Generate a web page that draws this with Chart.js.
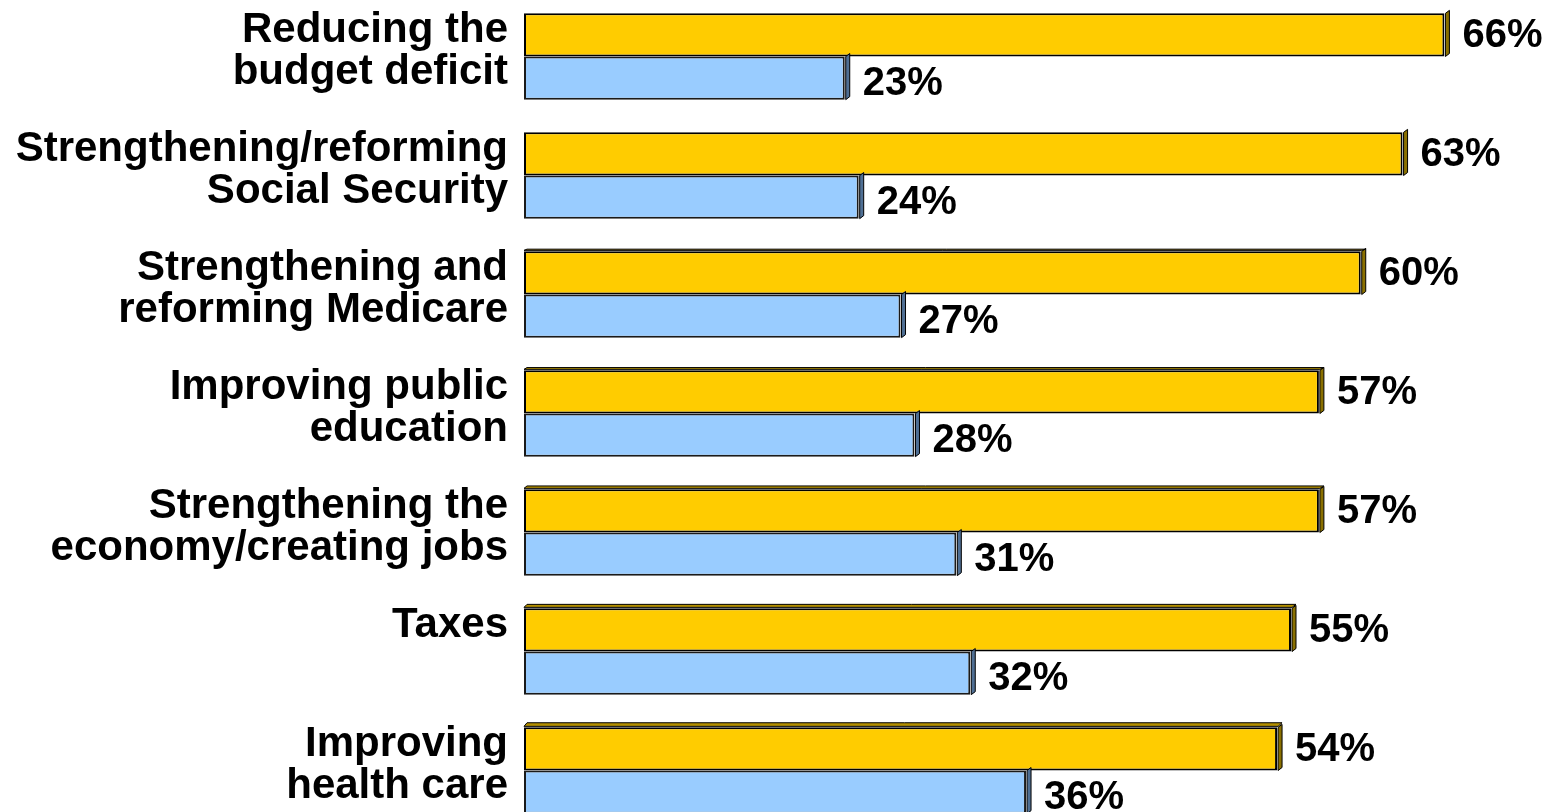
<!DOCTYPE html>
<html>
<head>
<meta charset="utf-8">
<script src="https://cdn.jsdelivr.net/npm/chart.js@4.4.0/dist/chart.umd.min.js"></script>
<style>
    html, body { margin: 0; padding: 0; background: #fff; overflow: hidden; }
    #wrap { position: absolute; left: 0; top: -3px; width: 1549px; height: 833px; }
</style>
</head>
<body>
<div id="wrap"><canvas id="myChart" width="1549" height="833"></canvas></div>
<script>
// Categories (two lines each, 'Taxes' padded so it sits at the top like the others)
const categories = [
    ['Reducing the', 'budget deficit'],
    ['Strengthening/reforming', 'Social Security'],
    ['Strengthening and', 'reforming Medicare'],
    ['Improving public', 'education'],
    ['Strengthening the', 'economy/creating jobs'],
    ['Taxes', ''],
    ['Improving', 'health care']
];
const yellowValues = [66, 63, 60, 57, 57, 55, 54];
const blueValues = [23, 24, 27, 28, 31, 32, 36];

// Side / top faces for the 3D look
const sideColors = ['#8a7000', '#4f6f94'];
const topColor = '#b38f00';

const bar3d = {
    id: 'bar3d',
    afterDatasetsDraw(chart) {
        const ctx = chart.ctx;
        ctx.save();
        ctx.lineWidth = 1;
        ctx.strokeStyle = '#000';
        chart.data.datasets.forEach((ds, di) => {
            chart.getDatasetMeta(di).data.forEach((bar, i) => {
                const top = bar.y - bar.height / 2;
                const bottom = bar.y + bar.height / 2;
                const left = bar.base;
                const right = bar.x;
                const dx = 5, dy = 3;
                // right side face
                ctx.fillStyle = sideColors[di];
                ctx.beginPath();
                ctx.moveTo(right + 1, top);
                ctx.lineTo(right + dx, top - dy);
                ctx.lineTo(right + dx, bottom - dy);
                ctx.lineTo(right + 1, bottom);
                ctx.closePath();
                ctx.fill();
                ctx.stroke();
                // top face, gets visible further down
                const th = i * 0.6;
                if (di === 0 && th >= 1) {
                    ctx.fillStyle = topColor;
                    ctx.beginPath();
                    ctx.moveTo(left, top - 1);
                    ctx.lineTo(left + 3, top - 1 - th);
                    ctx.lineTo(right + dx, top - 1 - th);
                    ctx.lineTo(right + 1, top - 1);
                    ctx.closePath();
                    ctx.fill();
                    ctx.stroke();
                }
            });
        });
        ctx.restore();
    }
};

const barLabels = {
    id: 'barLabels',
    afterDatasetsDraw(chart) {
        const ctx = chart.ctx;
        ctx.save();
        ctx.font = 'bold 40px "Liberation Sans", Arial, sans-serif';
        ctx.fillStyle = '#000';
        ctx.textBaseline = 'middle';
        ctx.textAlign = 'left';
        chart.data.datasets.forEach((ds, di) => {
            chart.getDatasetMeta(di).data.forEach((bar, i) => {
                ctx.fillText(ds.data[i] + '%', bar.x + 18, bar.y + (di === 1 ? 6 : 1));
            });
        });
        ctx.restore();
    }
};

const ctx = document.getElementById('myChart').getContext('2d');
const myChart = new Chart(ctx, {
    type: 'bar',
    data: {
        labels: categories,
        datasets: [
            {
                label: 'Yellow',
                data: yellowValues,
                backgroundColor: '#ffcc00',
                borderColor: '#000',
                borderWidth: 2,
                borderSkipped: false,
                categoryPercentage: 0.725,
                barPercentage: 1.0
            },
            {
                label: 'Blue',
                data: blueValues,
                backgroundColor: '#99ccff',
                borderColor: '#1a1a1a',
                borderWidth: 2,
                borderSkipped: false,
                categoryPercentage: 0.725,
                barPercentage: 1.0
            }
        ]
    },
    options: {
        indexAxis: 'y',
        responsive: false,
        animation: false,
        devicePixelRatio: 1,
        layout: { padding: 0 },
        scales: {
            x: {
                display: false,
                min: 0,
                max: 73.5
            },
            y: {
                grid: { display: false, drawTicks: false },
                border: { display: false },
                afterFit: function (scale) {
                    // fixed label column, no extra room above/below the bars
                    scale.width = 524;
                    scale.paddingTop = 0;
                    scale.paddingBottom = 0;
                },
                ticks: {
                    color: '#000',
                    padding: 16,
                    labelOffset: -5,
                    font: {
                        family: '"Liberation Sans", Arial, sans-serif',
                        size: 42,
                        weight: 'bold',
                        lineHeight: 1
                    }
                }
            }
        },
        plugins: {
            legend: { display: false },
            tooltip: { enabled: false }
        }
    },
    plugins: [bar3d, barLabels]
});
</script>
</body>
</html>
